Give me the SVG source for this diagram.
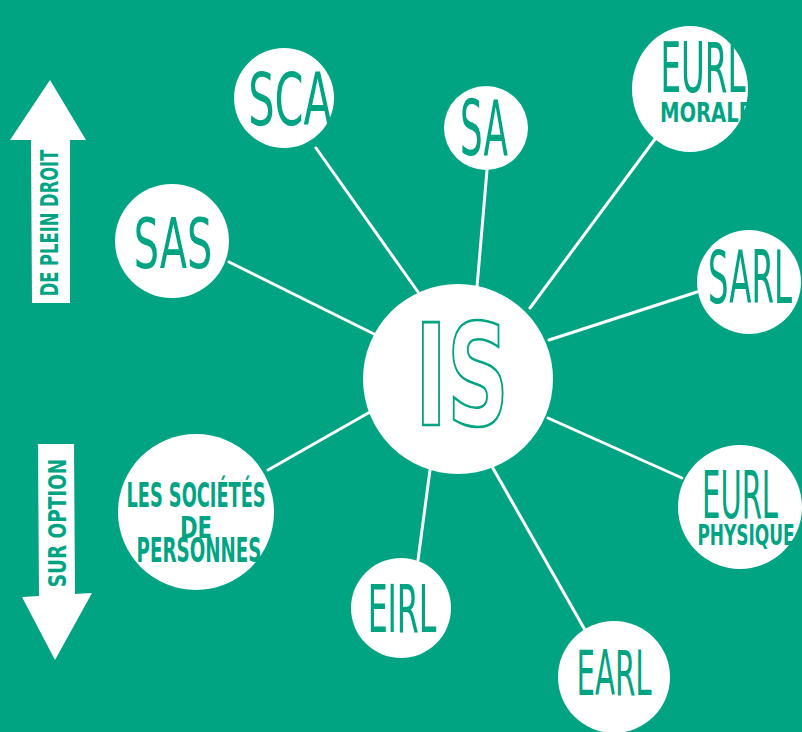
<svg xmlns="http://www.w3.org/2000/svg" width="802" height="732" viewBox="0 0 802 732">
<style>
.bg{fill:#00a482}
.node{fill:#fff}
.lbl{fill:#00a482;font-family:"DejaVu Sans Condensed","Liberation Sans Narrow","Liberation Sans",sans-serif;text-anchor:middle}
.big{font-weight:normal}
.sm{font-weight:bold}
.conn line{stroke:#fff;stroke-width:3;stroke-linecap:round}
.arrow{fill:#fff}
</style>
<rect class="bg" x="0" y="0" width="802" height="732"/>
<g id="connectors" class="conn">
<line x1="316" y1="148" x2="418" y2="292"/>
<line x1="487" y1="170" x2="477" y2="287"/>
<line x1="658" y1="135" x2="530" y2="308"/>
<line x1="229" y1="262" x2="376" y2="335"/>
<line x1="697" y1="292" x2="549" y2="340"/>
<line x1="268" y1="470" x2="370" y2="412"/>
<line x1="434" y1="440" x2="418" y2="560"/>
<line x1="490" y1="463" x2="585" y2="630"/>
<line x1="548" y1="418" x2="682" y2="478"/>
</g>
<g id="arrow-up">
<polygon class="arrow" points="50,80 86,140 70,140 70,303 32,303 31,140 10,140"/>
<text class="lbl sm" transform="translate(58,223) rotate(-90) scale(0.76,1)" x="0" y="0" font-size="24" textLength="193" lengthAdjust="spacingAndGlyphs">DE PLEIN DROIT</text>
</g>
<g id="arrow-down">
<polygon class="arrow" points="38,444 74,444 75,594 92,593 55,660 22,597 39,596"/>
<text class="lbl sm" transform="translate(66,523) rotate(-90) scale(0.85,1)" x="0" y="0" font-size="24" textLength="151" lengthAdjust="spacingAndGlyphs">SUR OPTION</text>
</g>
<g id="node-is">
<circle class="node" cx="458" cy="379" r="95"/>
<text class="lbl sm" transform="translate(462,425) scale(0.68,1)" x="0" y="0" font-size="140" style="fill:#fff;stroke:#00a482;stroke-width:2.6" textLength="138" lengthAdjust="spacingAndGlyphs">IS</text>
</g>
<g id="node-sca">
<circle class="node" cx="284" cy="98" r="50"/>
<text class="lbl big" transform="translate(290,125) scale(0.634,1)" x="0" y="0" font-size="73" textLength="132" lengthAdjust="spacingAndGlyphs">SCA</text>
</g>
<g id="node-sa">
<circle class="node" cx="486" cy="128" r="42"/>
<text class="lbl big" transform="translate(484,155) scale(0.532,1)" x="0" y="0" font-size="76" textLength="90" lengthAdjust="spacingAndGlyphs">SA</text>
</g>
<g id="node-eurl-morale">
<ellipse class="node" cx="690" cy="89" rx="58" ry="63"/>
<text class="lbl big" transform="translate(703,92) scale(0.5,1)" x="0" y="0" font-size="70" textLength="170" lengthAdjust="spacingAndGlyphs">EURL</text>
<text class="lbl sm" transform="translate(706,122) scale(0.775,1)" x="0" y="0" font-size="27" textLength="119" lengthAdjust="spacingAndGlyphs">MORALE</text>
</g>
<g id="node-sas">
<circle class="node" cx="172" cy="241" r="57"/>
<text class="lbl big" transform="translate(173,268) scale(0.64,1)" x="0" y="0" font-size="70" textLength="123" lengthAdjust="spacingAndGlyphs">SAS</text>
</g>
<g id="node-sarl">
<circle class="node" cx="749" cy="282" r="52"/>
<text class="lbl big" transform="translate(750,303) scale(0.49,1)" x="0" y="0" font-size="73" textLength="171" lengthAdjust="spacingAndGlyphs">SARL</text>
</g>
<g id="node-eurl-physique">
<circle class="node" cx="740" cy="507" r="62"/>
<text class="lbl big" transform="translate(740,518) scale(0.48,1)" x="0" y="0" font-size="66" textLength="158" lengthAdjust="spacingAndGlyphs">EURL</text>
<text class="lbl sm" transform="translate(746,545) scale(0.627,1)" x="0" y="0" font-size="29" textLength="155" lengthAdjust="spacingAndGlyphs">PHYSIQUE</text>
</g>
<g id="node-societes">
<circle class="node" cx="196" cy="512" r="78"/>
<text class="lbl sm" transform="translate(196,507) scale(0.58,1)" x="0" y="0" font-size="33" textLength="240" lengthAdjust="spacingAndGlyphs">LES SOCIÉTÉS</text>
<text class="lbl sm" transform="translate(196,538) scale(0.73,1)" x="0" y="0" font-size="31" textLength="44" lengthAdjust="spacingAndGlyphs">DE</text>
<text class="lbl sm" transform="translate(199,562) scale(0.6,1)" x="0" y="0" font-size="33" textLength="208" lengthAdjust="spacingAndGlyphs">PERSONNES</text>
</g>
<g id="node-eirl">
<circle class="node" cx="401" cy="608" r="50"/>
<text class="lbl big" transform="translate(402,632) scale(0.533,1)" x="0" y="0" font-size="66" textLength="129" lengthAdjust="spacingAndGlyphs">EIRL</text>
</g>
<g id="node-earl">
<circle class="node" cx="614" cy="677" r="56"/>
<text class="lbl big" transform="translate(614,695) scale(0.515,1)" x="0" y="0" font-size="63" textLength="146" lengthAdjust="spacingAndGlyphs">EARL</text>
</g>
</svg>
